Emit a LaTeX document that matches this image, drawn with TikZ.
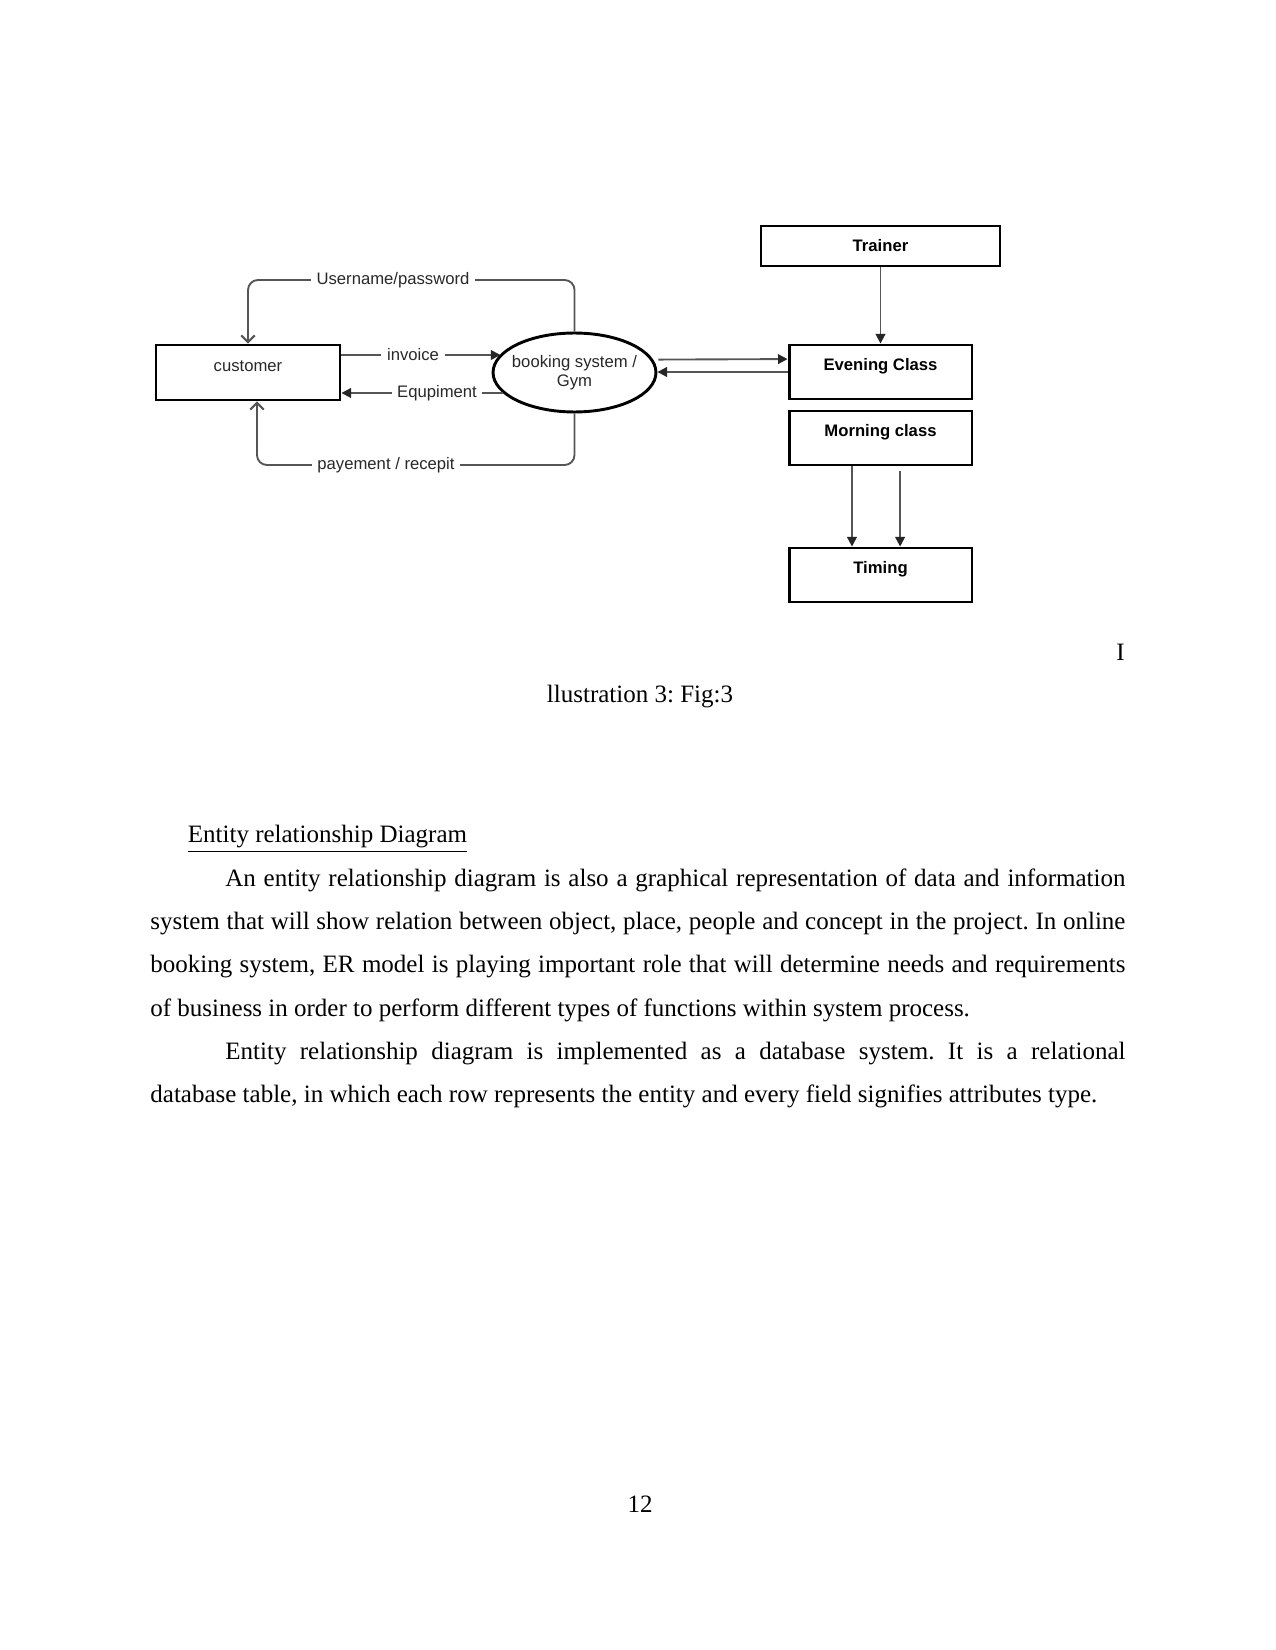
\documentclass[tikz,border=0pt]{standalone}
\usepackage{fontspec}
\setmainfont{Liberation Serif}
\setsansfont{Liberation Sans}
\usetikzlibrary{shapes.geometric,arrows.meta}
\definecolor{linegray}{RGB}{85,85,85}
\definecolor{labelgray}{RGB}{40,40,40}

\begin{document}
\begin{tikzpicture}[x=0.48pt,y=-0.48pt,
  dfont/.style={font=\sffamily\fontsize{8}{9.3}\selectfont},
  box/.style={draw,line width=1.4pt,minimum width=87.8pt,minimum height=25.9pt,inner sep=0pt,font=\sffamily\bfseries\fontsize{8}{9.3}\selectfont},
  tallbox/.style={box,text height=6pt,text depth=7pt},
  conn/.style={draw=linegray,line width=0.9pt},
  tri/.style={-{Triangle[length=4.6pt,width=4.6pt,color=black!85]}},
  barb/.style={-{Straight Barb[length=3.2pt,width=6.5pt,line width=1pt]}},
  lbl/.style={inner xsep=2.5pt,inner ysep=1pt,text=labelgray,dfont},
  body/.style={font=\frenchspacing\fontsize{12}{20.8}\selectfont,inner sep=0pt}]
  \useasboundingbox (0,0) rectangle (1275,1650);

  % the diagram
  \node[tallbox,font=\sffamily\fontsize{8}{9.3}\selectfont,text=labelgray,minimum width=88.3pt,minimum height=26.4pt] (cust) at (248,372.5) {customer};
  \node[draw,ellipse,line width=1.4pt,minimum width=78.2pt,minimum height=37.9pt,inner sep=0pt,align=center,dfont,text=labelgray] (sys) at (574.5,372.5) {\makebox[0pt]{booking system /}\\\makebox[0pt]{Gym}};
  \node[box,minimum width=114.7pt,minimum height=19.2pt] (trn) at (880.5,246) {Trainer};
  \node[tallbox] (eve) at (880.5,372) {Evening Class};
  \node[tallbox] (mor) at (880.5,438) {Morning class};
  \node[tallbox] (tim) at (880.5,575) {Timing};

  \node[lbl] (upw) at (393,280) {Username/password};
  \node[lbl] (inv) at (413,355) {invoice};
  \node[lbl] (eqp) at (437,393) {Equpiment};
  \node[lbl] (pay) at (386,465) {payement / recepit};

  \draw[conn,rounded corners=4.8pt] (sys.north) |- (upw.east);
  \draw[conn,barb,rounded corners=4.8pt] (upw.west) -| (cust.north);
  \draw[conn] (inv.west -| cust.east) -- (inv.west);
  \draw[conn,tri] (inv.east) -- (inv.east -| sys.166);
  \draw[conn] (eqp.east -| sys.196) -- (eqp.east);
  \draw[conn,tri] (eqp.west) -- (eqp.west -| cust.east);
  \draw[conn,rounded corners=4.8pt] (sys.south) |- (pay.east);
  \draw[conn,barb,rounded corners=4.8pt] (pay.west) -| ([xshift=4.3pt]cust.south);

  \draw[conn,tri] ([xshift=0.5pt,yshift=6.2pt]sys.east) -- ([yshift=6.2pt]eve.west);
  \draw[conn,tri] (eve.west) -- (eve.west -| sys.east);
  \draw[conn,tri] (trn) -- (eve);
  \draw[conn,tri] ([xshift=-13.7pt]mor.south) -- ([xshift=-13.7pt]tim.north);
  \draw[conn,tri] ([xshift=9.4pt,yshift=-2pt]mor.south) -- ([xshift=9.4pt]tim.north);

  % caption and page text
  \node[body,anchor=base east] (capi) at (1125,660) {I};
  \node[body,anchor=base] (cap) at (640,702) {llustration 3: Fig:3};
  \node[body,anchor=north west,text width=468pt,align=justify] (txt) at (150,812) {%
    \setlength\parindent{0pt}\setlength\parskip{0pt}%
    \strut\hspace*{18pt}\underline{Entity relationship Diagram}\par
    \hspace*{36pt}An entity relationship diagram is also a graphical representation of data and information\linebreak
    system that will show relation between object, place, people and concept in the project. In online\linebreak
    booking system, ER model is playing important role that will determine needs and requirements\linebreak
    of business in order to perform different types of functions within system process.\par
    \hspace*{36pt}Entity relationship diagram is implemented as a database system. It is a relational\linebreak
    database table, in which each row represents the entity and every field signifies attributes type.\par};
  \node[body,anchor=base] (pg) at (640,1512) {12};
\end{tikzpicture}
\end{document}
